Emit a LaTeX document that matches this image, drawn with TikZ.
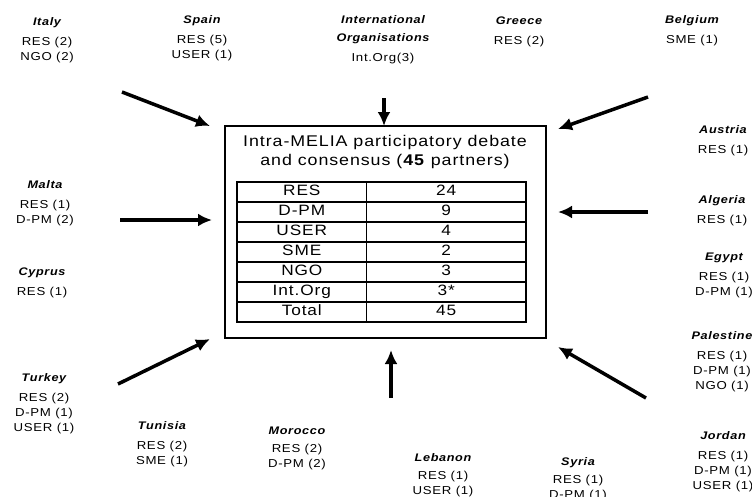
\documentclass[tikz,border=0pt]{standalone}
\usepackage{fontspec}
\setmainfont{Liberation Sans}[FakeStretch=1.15,LetterSpace=6]
\usepackage{array}
\usepackage{tikz}
\usetikzlibrary{shapes,arrows.meta}
\tikzstyle{country} = [align=center, anchor=north, inner sep=0pt, font=\fontsize{11.5}{15}\selectfont]
\tikzstyle{panel} = [rectangle, draw, line width=1.4pt, minimum width=321pt, minimum height=212pt]
\tikzstyle{heading} = [align=center, inner sep=0pt, font=\fontsize{15.5}{19}\selectfont]
\tikzstyle{line} = [draw, line width=3.5pt, -{Latex[length=14pt,width=13pt]}]
\newcommand{\cname}[1]{{\fontsize{11}{15}\selectfont\bfseries\itshape #1}}

\begin{document}
\begin{tikzpicture}[x=1pt, y=-1pt]
		\useasboundingbox (0,0) rectangle (752,496);
		\node [panel] (debate) at (385.5,232) {};
		\node [heading] (title) at (385,152) {Intra-MELIA participatory debate\\and consensus (\textbf{45} partners)};
		\node [inner sep=0pt, font=\fontsize{15}{18.6}\selectfont] (shares) at (381.5,252)
		{\setlength{\arrayrulewidth}{1.4pt}\setlength{\tabcolsep}{0pt}%
		\begin{tabular}{|>{\centering}p{128pt}|>{\centering\arraybackslash}p{158pt}|}
		\hline RES & 24\\ \hline D-PM & 9\\ \hline USER & 4\\ \hline SME & 2\\ \hline
		NGO & 3\\ \hline Int.Org & 3*\\ \hline Total & 45\\ \hline
		\end{tabular}};
		% partners round the debate
		\node [country] (italy) at (47,17) {\cname{Italy}\\[5pt]RES (2)\\NGO (2)};
		\node [country] (spain) at (202,15) {\cname{Spain}\\[5pt]RES (5)\\USER (1)};
		\node [country] (intorg) at (383,15) {\cname{International}\\[3pt]\cname{Organisations}\\[5pt]Int.Org(3)};
		\node [country] (greece) at (519,17) {\cname{Greece}\\[5pt]RES (2)};
		\node [country] (belgium) at (692,15) {\cname{Belgium}\\[5pt]SME (1)};
		\node [country] (austria) at (723,125) {\cname{Austria}\\[5pt]RES (1)};
		\node [country] (malta) at (45,180) {\cname{Malta}\\[5pt]RES (1)\\D-PM (2)};
		\node [country] (algeria) at (722,195) {\cname{Algeria}\\[5pt]RES (1)};
		\node [country] (egypt) at (724,253) {\cname{Egypt}\\[5pt]RES (1)\\D-PM (1)};
		\node [country] (cyprus) at (42,268) {\cname{Cyprus}\\[5pt]RES (1)};
		\node [country] (palestine) at (722,331) {\cname{Palestine}\\[5pt]RES (1)\\D-PM (1)\\NGO (1)};
		\node [country] (turkey) at (44,373) {\cname{Turkey}\\[5pt]RES (2)\\D-PM (1)\\USER (1)};
		\node [country] (tunisia) at (162,421) {\cname{Tunisia}\\[5pt]RES (2)\\SME (1)};
		\node [country] (morocco) at (297,427) {\cname{Morocco}\\[3pt]RES (2)\\D-PM (2)};
		\node [country] (lebanon) at (443,453) {\cname{Lebanon}\\[3pt]RES (1)\\USER (1)};
		\node [country] (syria) at (578,457) {\cname{Syria}\\[3pt]RES (1)\\D-PM (1)};
		\node [country] (jordan) at (723,431) {\cname{Jordan}\\[5pt]RES (1)\\D-PM (1)\\USER (1)};
		% arrow ends
		\coordinate (italyfrom) at (122,92);
		\coordinate (italyto) at (210,126);
		\coordinate (intorgfrom) at (384,98);
		\coordinate (intorgto) at (384,126);
		\coordinate (austriafrom) at (648,97);
		\coordinate (austriato) at (558,129);
		\coordinate (maltafrom) at (120,220);
		\coordinate (maltato) at (212,220);
		\coordinate (egyptfrom) at (648,212);
		\coordinate (egyptto) at (558,212);
		\coordinate (turkeyfrom) at (118,384);
		\coordinate (turkeyto) at (210,339);
		\coordinate (palestinefrom) at (646,398);
		\coordinate (palestineto) at (558,347);
		\coordinate (lebanonfrom) at (391,398);
		\coordinate (lebanonto) at (391,350);
		\path [line] (italyfrom) -- (italyto);
		\path [line] (intorgfrom) -- (intorgto);
		\path [line] (austriafrom) -- (austriato);
		\path [line] (maltafrom) -- (maltato);
		\path [line] (egyptfrom) -- (egyptto);
		\path [line] (turkeyfrom) -- (turkeyto);
		\path [line] (palestinefrom) -- (palestineto);
		\path [line] (lebanonfrom) -- (lebanonto);
	\end{tikzpicture}
\end{document}
